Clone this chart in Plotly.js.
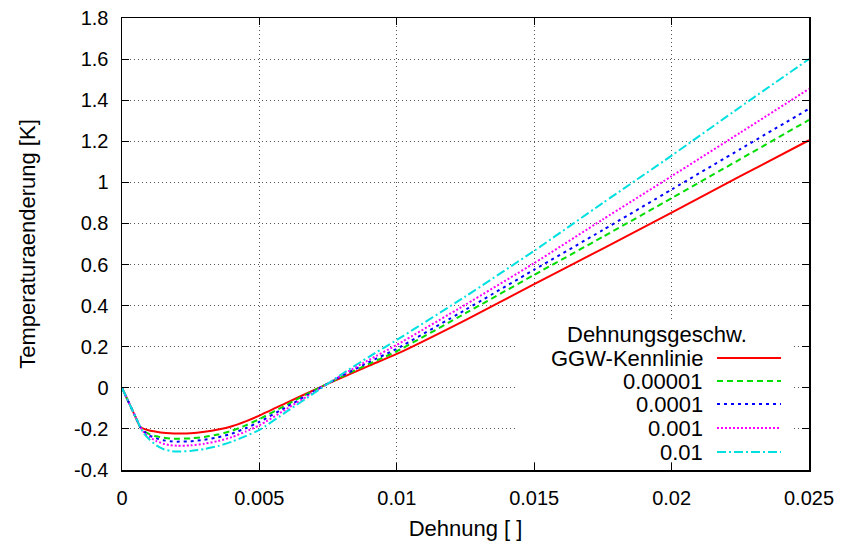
<!DOCTYPE html>
<html>
<head>
<meta charset="utf-8">
<script src="https://cdn.plot.ly/plotly-3.0.1.min.js"></script>
<style>html,body{margin:0;padding:0;background:#fff;}#chart{width:844px;height:547px;}</style>
</head>
<body>
<div id="chart"></div>
<script>
// Dehnung (strain) values
const strain = [0, 0.0005, 0.00066, 0.0008, 0.001, 0.00125, 0.0015, 0.00175, 0.002, 0.0025, 0.003, 0.0035, 0.004, 0.0045, 0.005, 0.006, 0.007, 0.008, 0.009, 0.01, 0.0125, 0.015, 0.0175, 0.02, 0.0225, 0.025];
// Temperaturaenderung [K] per series
const ggw     = [0, -0.144, -0.19, -0.2, -0.208, -0.214, -0.219, -0.221, -0.222, -0.221, -0.214, -0.203, -0.187, -0.163, -0.135, -0.072, -0.01, 0.05, 0.108, 0.165, 0.33, 0.505, 0.678, 0.853, 1.03, 1.205];
const r00001  = [0, -0.144, -0.19, -0.21, -0.225, -0.236, -0.243, -0.247, -0.248, -0.246, -0.239, -0.227, -0.209, -0.183, -0.152, -0.082, -0.012, 0.055, 0.117, 0.178, 0.363, 0.55, 0.735, 0.923, 1.113, 1.304];
const r0001   = [0, -0.144, -0.19, -0.213, -0.232, -0.246, -0.255, -0.26, -0.262, -0.26, -0.253, -0.241, -0.223, -0.197, -0.166, -0.092, -0.016, 0.058, 0.126, 0.19, 0.38, 0.575, 0.768, 0.965, 1.162, 1.358];
const r001    = [0, -0.144, -0.19, -0.217, -0.24, -0.259, -0.272, -0.279, -0.282, -0.28, -0.272, -0.259, -0.24, -0.213, -0.183, -0.102, -0.02, 0.062, 0.137, 0.209, 0.405, 0.607, 0.82, 1.03, 1.242, 1.455];
const r01     = [0, -0.144, -0.19, -0.222, -0.252, -0.28, -0.298, -0.307, -0.31, -0.307, -0.298, -0.283, -0.262, -0.235, -0.205, -0.115, -0.025, 0.067, 0.152, 0.233, 0.445, 0.667, 0.9, 1.13, 1.367, 1.6];

const seriesNames = ['GGW-Kennlinie', '0.00001', '0.0001', '0.001', '0.01'];
const seriesData = [ggw, r00001, r0001, r001, r01];
const legendTitle = 'Dehnungsgeschw.';
const xTickVals = [0, 0.005, 0.01, 0.015, 0.02, 0.025];
const xTickText = ['0', '0.005', '0.01', '0.015', '0.02', '0.025'];
const yTickVals = [-0.4, -0.2, 0, 0.2, 0.4, 0.6, 0.8, 1, 1.2, 1.4, 1.6, 1.8];
const yTickText = ['-0.4', '-0.2', '0', '0.2', '0.4', '0.6', '0.8', '1', '1.2', '1.4', '1.6', '1.8'];

const colors = ['#ff0000', '#00dd00', '#0000ff', '#ff00ff', '#00e0e0'];
const dashes = ['solid', '6px,4px', '3px,4px', '2px,2px', '9px,3px,2px,3px'];

const traces = seriesData.map((ys, i) => ({
  x: strain, y: ys, type: 'scatter', mode: 'lines', name: seriesNames[i],
  line: {color: colors[i], width: 2, dash: dashes[i], shape: 'spline', smoothing: 0.5}, showlegend: false
}));

const FONT = 'Liberation Sans, Arial, sans-serif';
const W = 844, H = 547, L = 122, R = 35, T = 18, B = 77;
const pw = W - L - R, ph = H - T - B;
const px = v => (v - L) / pw;
const py = v => (H - B - v) / ph;

const shapes = [{
  type: 'rect', xref: 'paper', yref: 'paper', x0: px(518), x1: px(792), y0: py(462), y1: py(322),
  fillcolor: '#ffffff', line: {width: 0}, layer: 'above'
}];
const annotations = [{
  xref: 'paper', yref: 'paper', x: px(657), y: py(334), text: legendTitle, showarrow: false,
  xanchor: 'center', yanchor: 'middle', font: {family: FONT, size: 22, color: '#000'}
}];
const rowY = [358, 381, 404, 428, 452];
seriesNames.forEach((n, i) => {
  annotations.push({
    xref: 'paper', yref: 'paper', x: px(705), y: py(rowY[i]), text: n, showarrow: false,
    xanchor: 'right', yanchor: 'middle', font: {family: FONT, size: 22, color: '#000'}
  });
  shapes.push({
    type: 'line', xref: 'paper', yref: 'paper', x0: px(717), x1: px(781), y0: py(rowY[i]), y1: py(rowY[i]),
    line: {color: colors[i], width: 2, dash: dashes[i]}, layer: 'above'
  });
});

const axisCommon = {
  showline: true, linecolor: '#000', linewidth: 1.5, mirror: 'ticks',
  ticks: 'inside', ticklen: 7, tickwidth: 1, tickcolor: '#000',
  showgrid: true, gridcolor: '#555', griddash: '1px,3px', gridwidth: 1,
  zeroline: false, tickfont: {family: FONT, size: 20, color: '#000'}
};

const layout = {
  width: W, height: H,
  margin: {l: L, r: R, t: T, b: B},
  paper_bgcolor: '#fff', plot_bgcolor: '#fff',
  showlegend: false,
  xaxis: Object.assign({}, axisCommon, {
    range: [0, 0.025], tickmode: 'array', tickvals: xTickVals, ticktext: xTickText,
    ticklabelstandoff: 9,
    title: {text: 'Dehnung [ ]', font: {family: FONT, size: 22, color: '#000'}, standoff: 13}
  }),
  yaxis: Object.assign({}, axisCommon, {
    range: [-0.4, 1.8], tickmode: 'array', tickvals: yTickVals, ticktext: yTickText,
    ticklabelstandoff: 8,
    title: {text: 'Temperaturaenderung [K]', font: {family: FONT, size: 22, color: '#000'}, standoff: 32}
  }),
  shapes: shapes,
  annotations: annotations
};

Plotly.newPlot('chart', traces, layout, {staticPlot: true, displayModeBar: false});
</script>
</body>
</html>
